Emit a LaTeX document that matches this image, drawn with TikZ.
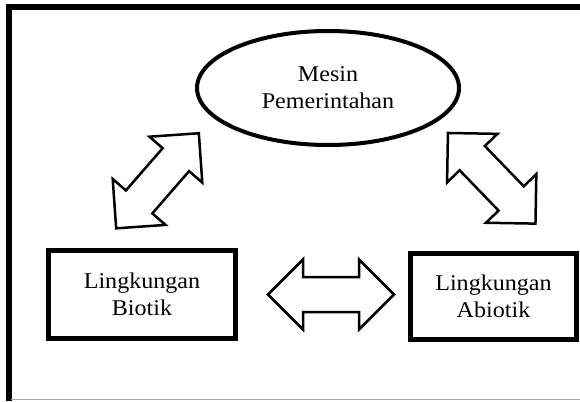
\documentclass[tikz,border=0pt]{standalone}
\usepackage{fontspec}
\setmainfont{Liberation Serif}[FakeStretch=1.07]
\usetikzlibrary{shapes.geometric}
\tikzset{
  lbl/.style={font=\fontsize{22.5}{27}\selectfont, align=center},
  envbox/.style={draw, line width=5pt, rectangle, inner sep=0pt, lbl},
  govell/.style={draw, line width=4pt, ellipse, inner sep=0pt, lbl,
    minimum width=262pt, minimum height=114pt},
  arrowline/.style={draw, line width=2.5pt, line join=miter, fill=white},
  dblarrow/.pic={\path[arrowline] (-63,0) -- (-28,35) -- (-28,17.5) -- (28,17.5)
     -- (28,35) -- (63,0) -- (28,-35) -- (28,-17.5) -- (-28,-17.5) -- (-28,-35) -- cycle;}
}
\begin{document}
\begin{tikzpicture}[x=1pt,y=-1pt]
\useasboundingbox (0,0) rectangle (580,401);
% frame
\draw[gray!70, line width=0.8pt] (6,4.2) -- (580,4.2);
\draw[line width=5.5pt] (8.8,401) -- (8.8,7) -- (580,7);
\draw[gray!70, line width=1pt] (11,399.8) -- (580,399.8);
% nodes
\node[govell] (gov) at (328,88) {Mesin\\Pemerintahan};
\node[envbox, minimum width=187pt, minimum height=88pt] (bio) at (142,294.5) {Lingkungan\\Biotik};
\node[envbox, minimum width=166pt, minimum height=86pt] (abio) at (493.5,296.5) {Lingkungan\\Abiotik};
% block arrows
\coordinate (arrL) at (157.5,180.8);
\coordinate (arrR) at (491.7,178.3);
\coordinate (arrM) at (331,294.5);
\pic[rotate=49] at (arrL) {dblarrow};
\pic[rotate=-46] at (arrR) {dblarrow};
\pic at (arrM) {dblarrow};
\end{tikzpicture}
\end{document}
